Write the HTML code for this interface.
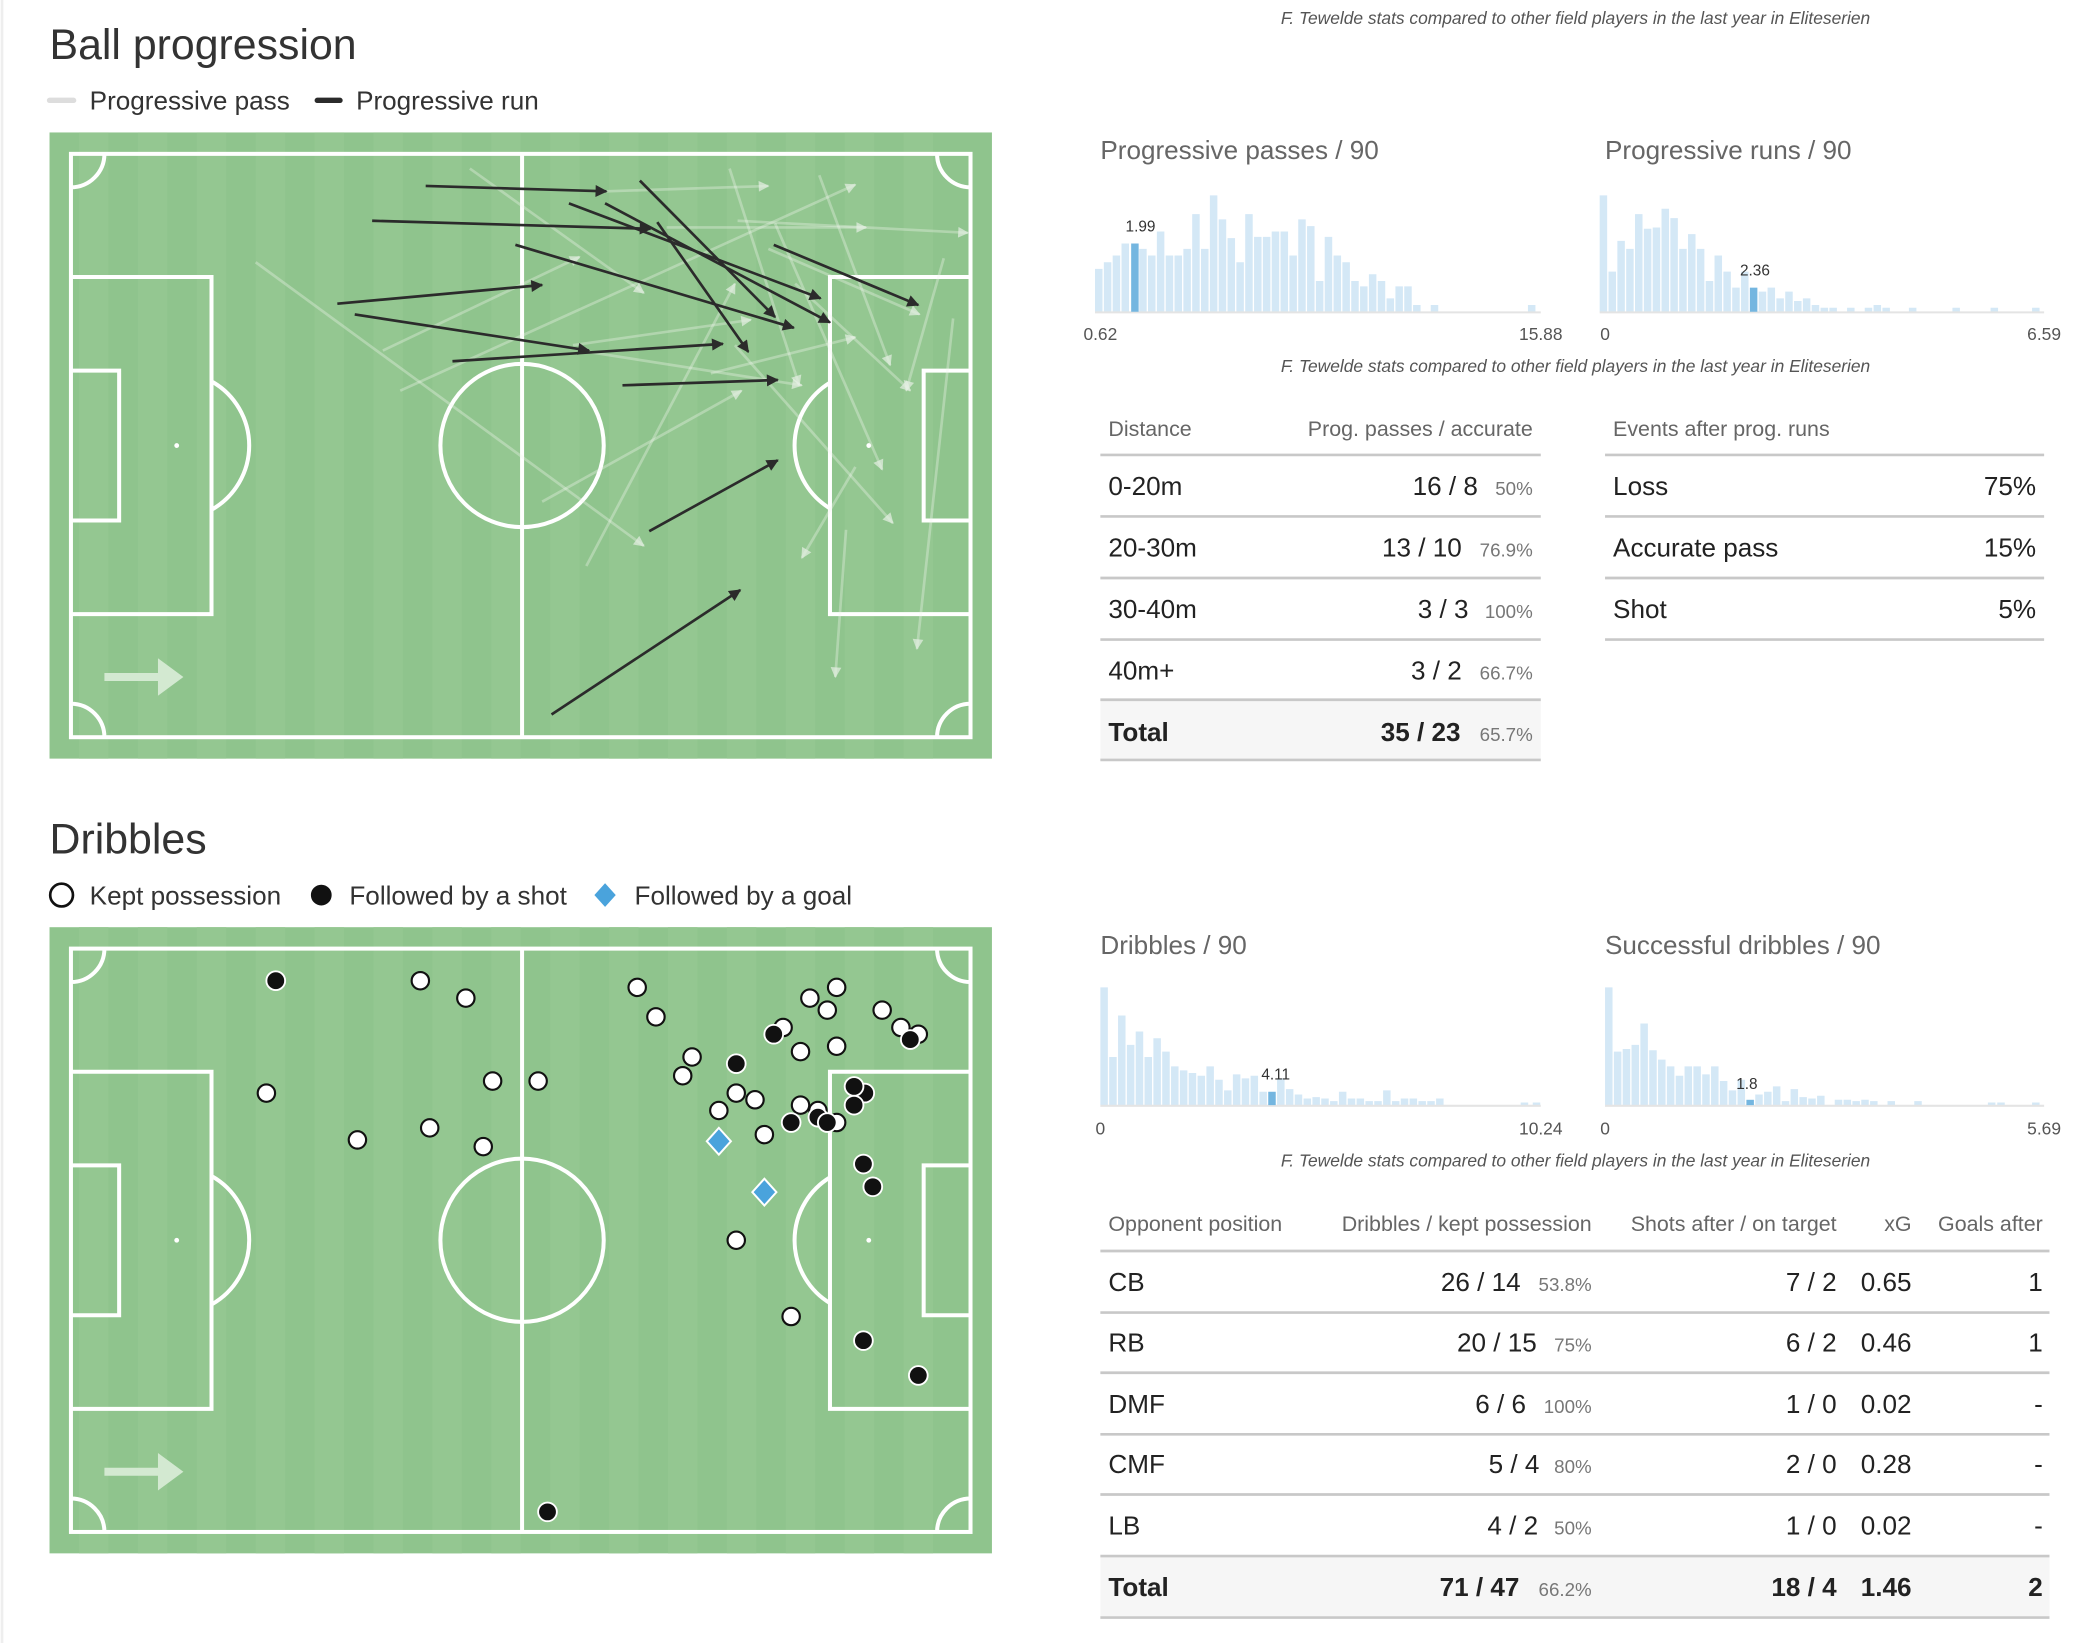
<!DOCTYPE html>
<html><head><meta charset="utf-8"><style>
html,body{margin:0;padding:0;background:#fff;}
svg{display:block;font-family:"Liberation Sans",sans-serif;}
.t{fill:#333;}
.g{fill:#666;}
.h{font-size:16px;fill:#666;}
.r{font-size:19.5px;fill:#222;}
.p{font-size:14px;fill:#777;}
.f{font-size:13px;fill:#555;font-style:italic;}
.ax{font-size:13px;fill:#555;}
</style></head><body>
<svg width="2099" height="1643" viewBox="0 0 1568 1228" preserveAspectRatio="none" xmlns="http://www.w3.org/2000/svg">
<defs>
<marker id="ad" viewBox="0 0 10 10" refX="9" refY="5" markerWidth="11" markerHeight="9" markerUnits="userSpaceOnUse" orient="auto"><path d="M0,0L10,5L0,10z" fill="#2b2b2b"/></marker>
<marker id="al" viewBox="0 0 10 10" refX="9" refY="5" markerWidth="10" markerHeight="8" markerUnits="userSpaceOnUse" orient="auto"><path d="M0,0L10,5L0,10z" fill="#e6f0e4" fill-opacity="0.7"/></marker>
<g id="pitch">
<rect x="37" y="99" width="704" height="468" fill="#8fc48d"/>
<g fill="#94c791">
<rect x="59" y="99" width="22" height="468"/><rect x="103" y="99" width="22" height="468"/><rect x="147" y="99" width="22" height="468"/><rect x="191" y="99" width="22" height="468"/><rect x="235" y="99" width="22" height="468"/><rect x="279" y="99" width="22" height="468"/><rect x="323" y="99" width="22" height="468"/><rect x="367" y="99" width="22" height="468"/><rect x="411" y="99" width="22" height="468"/><rect x="455" y="99" width="22" height="468"/><rect x="499" y="99" width="22" height="468"/><rect x="543" y="99" width="22" height="468"/><rect x="587" y="99" width="22" height="468"/><rect x="631" y="99" width="22" height="468"/><rect x="675" y="99" width="22" height="468"/>
</g>
<g fill="none" stroke="#fff" stroke-width="3">
<rect x="53" y="115" width="672" height="436"/>
<line x1="390" y1="115" x2="390" y2="551"/>
<circle cx="390" cy="333" r="61"/>
<path d="M53 207H158V459H53M53 277H89V389H53M725 207H620V459H725M725 277H690V389H725"/>
<path d="M158 285A55 55 0 0 1 158 381M620 286A55 55 0 0 0 620 380"/>
<path d="M53 140A25 25 0 0 0 78 115M700 115A25 25 0 0 0 725 140M53 526A25 25 0 0 1 78 551M700 551A25 25 0 0 1 725 526"/>
</g>
<circle cx="132" cy="333" r="1.8" fill="#fff"/><circle cx="649" cy="333" r="1.8" fill="#fff"/>
<line x1="78" y1="506" x2="121" y2="506" stroke="#d3e9d1" stroke-width="6"/>
<path d="M118 492L137 506L118 520z" fill="#d3e9d1"/>
</g>
</defs>

<line x1="1.5" y1="0" x2="1.5" y2="1228" stroke="#eee" stroke-width="2"/>

<text x="37" y="44" font-size="32" class="t">Ball progression</text>
<line x1="37" y1="75" x2="55" y2="75" stroke="#ddd" stroke-width="4" stroke-linecap="round"/>
<text x="67" y="82" font-size="19.5" class="t">Progressive pass</text>
<line x1="237" y1="75" x2="254" y2="75" stroke="#2b2b2b" stroke-width="4" stroke-linecap="round"/>
<text x="266" y="82" font-size="19.5" class="t">Progressive run</text>

<use href="#pitch"/>
<g stroke="#f0f5ef" stroke-opacity="0.35" stroke-width="2" fill="none" marker-end="url(#al)">
<line x1="351" y1="126" x2="481" y2="219"/>
<line x1="191" y1="196" x2="481" y2="408"/>
<line x1="286" y1="262" x2="433" y2="192"/>
<line x1="299" y1="292" x2="639" y2="138"/>
<line x1="453" y1="143" x2="574" y2="139"/>
<line x1="551" y1="165" x2="723" y2="174"/>
<line x1="498" y1="170" x2="647" y2="170"/>
<line x1="545" y1="126" x2="597" y2="288"/>
<line x1="612" y1="131" x2="665" y2="273"/>
<line x1="705" y1="193" x2="677" y2="292"/>
<line x1="712" y1="238" x2="685" y2="485"/>
<line x1="632" y1="396" x2="624" y2="506"/>
<line x1="639" y1="349" x2="599" y2="417"/>
<line x1="438" y1="423" x2="549" y2="212"/>
<line x1="405" y1="375" x2="554" y2="292"/>
<line x1="531" y1="279" x2="639" y2="252"/>
<line x1="433" y1="262" x2="599" y2="288"/>
<line x1="428" y1="258" x2="561" y2="239"/>
<line x1="574" y1="186" x2="687" y2="235"/>
<line x1="579" y1="167" x2="659" y2="351"/>
<line x1="549" y1="258" x2="667" y2="391"/>
<line x1="594" y1="212" x2="680" y2="292"/>
</g>
<g stroke="#2b2b2b" stroke-width="2" marker-end="url(#ad)">
<line x1="318" y1="139" x2="453" y2="143"/>
<line x1="278" y1="165" x2="486" y2="171"/>
<line x1="425" y1="152" x2="613" y2="223"/>
<line x1="452" y1="152" x2="620" y2="241"/>
<line x1="478" y1="135" x2="579" y2="237"/>
<line x1="491" y1="166" x2="559" y2="263"/>
<line x1="385" y1="183" x2="593" y2="245"/>
<line x1="578" y1="183" x2="686" y2="228"/>
<line x1="252" y1="227" x2="405" y2="213"/>
<line x1="265" y1="235" x2="440" y2="262"/>
<line x1="338" y1="270" x2="540" y2="257"/>
<line x1="465" y1="288" x2="581" y2="284"/>
<line x1="485" y1="397" x2="581" y2="344"/>
<line x1="412" y1="534" x2="553" y2="441"/>
</g>

<text x="1177" y="18" text-anchor="middle" class="f">F. Tewelde stats compared to other field players in the last year in Eliteserien</text>
<text x="822" y="119" font-size="19.5" class="g">Progressive passes / 90</text>
<text x="1199" y="119" font-size="19.5" class="g">Progressive runs / 90</text>

<g fill="#d4e8f6">
<path d="M818 233v-32h5.6v32zM824.6 233v-37h5.6v37zM831.2 233v-42h5.6v42zM837.8 233v-51h5.6v51zM851 233v-47h5.6v47zM857.6 233v-42h5.6v42zM864.2 233v-60h5.6v60zM870.8 233v-42h5.6v42zM877.4 233v-42h5.6v42zM884 233v-47h5.6v47zM890.6 233v-73h5.6v73zM897.2 233v-47h5.6v47zM903.8 233v-87h5.6v87zM910.4 233v-69h5.6v69zM917 233v-55h5.6v55zM923.6 233v-37h5.6v37zM930.2 233v-73h5.6v73zM936.8 233v-56h5.6v56zM943.4 233v-56h5.6v56zM950 233v-60h5.6v60zM956.6 233v-60h5.6v60zM963.2 233v-42h5.6v42zM969.8 233v-69h5.6v69zM976.4 233v-64h5.6v64zM983 233v-23h5.6v23zM989.6 233v-56h5.6v56zM996.2 233v-42h5.6v42zM1002.8 233v-37h5.6v37zM1009.4 233v-23h5.6v23zM1016 233v-19h5.6v19zM1022.6 233v-28h5.6v28zM1029.2 233v-23h5.6v23zM1035.8 233v-10h5.6v10zM1042.4 233v-19h5.6v19zM1049 233v-19h5.6v19zM1055.6 233v-5h5.6v5zM1068.8 233v-5h5.6v5zM1141.4 233v-5h5.6v5z"/>
</g>
<line x1="818" y1="233.5" x2="1151" y2="233.5" stroke="#e4e4e4" stroke-width="1.5"/>
<rect x="845" y="182" width="5.6" height="51" fill="#74b6e0"/>
<text x="852" y="173" font-size="11.5" text-anchor="middle" fill="#333">1.99</text>
<text x="822" y="254" text-anchor="middle" class="ax">0.62</text>
<text x="1151" y="254" text-anchor="middle" class="ax">15.88</text>

<g fill="#d4e8f6">
<path d="M1195 233v-87h5.6v87zM1201.6 233v-30h5.6v30zM1208.2 233v-53h5.6v53zM1214.8 233v-47h5.6v47zM1221.4 233v-73h5.6v73zM1228 233v-62h5.6v62zM1234.6 233v-63h5.6v63zM1241.2 233v-77h5.6v77zM1247.8 233v-70h5.6v70zM1254.4 233v-47h5.6v47zM1261 233v-58h5.6v58zM1267.6 233v-47h5.6v47zM1274.2 233v-23h5.6v23zM1280.8 233v-42h5.6v42zM1287.4 233v-30h5.6v30zM1294 233v-18h5.6v18zM1300.6 233v-30h5.6v30zM1313.8 233v-15h5.6v15zM1320.4 233v-18h5.6v18zM1327 233v-10h5.6v10zM1333.6 233v-15h5.6v15zM1340.2 233v-8h5.6v8zM1346.8 233v-10h5.6v10zM1353.4 233v-5h5.6v5zM1360 233v-3h5.6v3zM1366.6 233v-3h5.6v3zM1379.8 233v-3h5.6v3zM1393 233v-3h5.6v3zM1399.6 233v-5h5.6v5zM1406.2 233v-3h5.6v3zM1426 233v-3h5.6v3zM1458.5 233v-3h5.6v3zM1487 233v-3h5.6v3zM1518 233v-3h5.6v3z"/>
</g>
<line x1="1195" y1="233.5" x2="1527" y2="233.5" stroke="#e4e4e4" stroke-width="1.5"/>
<rect x="1307.2" y="215" width="5.6" height="18" fill="#74b6e0"/>
<text x="1311" y="206" font-size="11.5" text-anchor="middle" fill="#333">2.36</text>
<text x="1199" y="254" text-anchor="middle" class="ax">0</text>
<text x="1527" y="254" text-anchor="middle" class="ax">6.59</text>
<text x="1177" y="278" text-anchor="middle" class="f">F. Tewelde stats compared to other field players in the last year in Eliteserien</text>

<text x="828" y="326" class="h">Distance</text>
<text x="1145" y="326" text-anchor="end" class="h">Prog. passes / accurate</text>
<rect x="822" y="523" width="329" height="45" fill="#f6f6f6"/>
<g stroke="#c8c8c8" stroke-width="2">
<line x1="822" y1="340" x2="1151" y2="340"/><line x1="822" y1="386" x2="1151" y2="386"/><line x1="822" y1="432" x2="1151" y2="432"/><line x1="822" y1="478" x2="1151" y2="478"/><line x1="822" y1="523" x2="1151" y2="523"/><line x1="822" y1="568" x2="1151" y2="568"/>
<line x1="1199" y1="340" x2="1527" y2="340"/><line x1="1199" y1="386" x2="1527" y2="386"/><line x1="1199" y1="432" x2="1527" y2="432"/><line x1="1199" y1="478" x2="1527" y2="478"/>
</g>
<g class="r">
<text x="828" y="370">0-20m</text><text x="1104" y="370" text-anchor="end">16 / 8</text>
<text x="828" y="416">20-30m</text><text x="1092" y="416" text-anchor="end">13 / 10</text>
<text x="828" y="462">30-40m</text><text x="1097" y="462" text-anchor="end">3 / 3</text>
<text x="828" y="508">40m+</text><text x="1092" y="508" text-anchor="end">3 / 2</text>
<text x="828" y="554" font-weight="bold">Total</text><text x="1091" y="554" text-anchor="end" font-weight="bold">35 / 23</text>
</g>
<g class="p" text-anchor="end">
<text x="1145" y="370">50%</text><text x="1145" y="416">76.9%</text><text x="1145" y="462">100%</text><text x="1145" y="508">66.7%</text><text x="1145" y="554">65.7%</text>
</g>
<text x="1205" y="326" class="h">Events after prog. runs</text>
<g class="r">
<text x="1205" y="370">Loss</text><text x="1521" y="370" text-anchor="end">75%</text>
<text x="1205" y="416">Accurate pass</text><text x="1521" y="416" text-anchor="end">15%</text>
<text x="1205" y="462">Shot</text><text x="1521" y="462" text-anchor="end">5%</text>
</g>

<text x="37" y="638" font-size="32" class="t">Dribbles</text>
<circle cx="46" cy="669" r="8.5" fill="#fff" stroke="#111" stroke-width="2"/>
<text x="67" y="676" font-size="19.5" class="t">Kept possession</text>
<circle cx="240" cy="669" r="8.5" fill="#111" stroke="#fff" stroke-width="1.5"/>
<text x="261" y="676" font-size="19.5" class="t">Followed by a shot</text>
<path d="M452 659L461 669L452 679L443 669z" fill="#4aa3dc" stroke="#fff" stroke-width="1.5"/>
<text x="474" y="676" font-size="19.5" class="t">Followed by a goal</text>

<use href="#pitch" y="594"/>
<g stroke="#111" stroke-width="1.6" fill="#fff">
<circle cx="314" cy="733" r="6.5"/><circle cx="348" cy="746" r="6.5"/><circle cx="199" cy="817" r="6.5"/><circle cx="368" cy="808" r="6.5"/><circle cx="402" cy="808" r="6.5"/><circle cx="267" cy="852" r="6.5"/><circle cx="321" cy="843" r="6.5"/><circle cx="361" cy="857" r="6.5"/><circle cx="476" cy="738" r="6.5"/><circle cx="490" cy="760" r="6.5"/><circle cx="517" cy="790" r="6.5"/><circle cx="510" cy="804" r="6.5"/><circle cx="550" cy="817" r="6.5"/><circle cx="564" cy="822" r="6.5"/><circle cx="537" cy="830" r="6.5"/><circle cx="571" cy="848" r="6.5"/><circle cx="585" cy="768" r="6.5"/><circle cx="598" cy="786" r="6.5"/><circle cx="605" cy="746" r="6.5"/><circle cx="618" cy="755" r="6.5"/><circle cx="625" cy="738" r="6.5"/><circle cx="625" cy="782" r="6.5"/><circle cx="659" cy="755" r="6.5"/><circle cx="673" cy="768" r="6.5"/><circle cx="686" cy="773" r="6.5"/><circle cx="598" cy="826" r="6.5"/><circle cx="611" cy="830" r="6.5"/><circle cx="625" cy="839" r="6.5"/><circle cx="550" cy="927" r="6.5"/><circle cx="591" cy="984" r="6.5"/>
</g>
<g stroke="#fff" stroke-width="1.4" fill="#111">
<circle cx="206" cy="733" r="7"/><circle cx="578" cy="773" r="7"/><circle cx="550" cy="795" r="7"/><circle cx="680" cy="777" r="7"/><circle cx="646" cy="817" r="7"/><circle cx="638" cy="812" r="7"/><circle cx="638" cy="826" r="7"/><circle cx="591" cy="839" r="7"/><circle cx="611" cy="835" r="7"/><circle cx="618" cy="839" r="7"/><circle cx="645" cy="870" r="7"/><circle cx="652" cy="887" r="7"/><circle cx="645" cy="1002" r="7"/><circle cx="686" cy="1028" r="7"/><circle cx="409" cy="1130" r="7"/>
</g>
<g fill="#4aa3dc" stroke="#fff" stroke-width="1.5">
<path d="M537 843L546 853L537 863L528 853z"/><path d="M571 881L580 891L571 901L562 891z"/>
</g>

<text x="822" y="713" font-size="19.5" class="g">Dribbles / 90</text>
<text x="1199" y="713" font-size="19.5" class="g">Successful dribbles / 90</text>
<g fill="#d4e8f6">
<path d="M822 826v-88h5.6v88zM828.6 826v-36h5.6v36zM835.2 826v-67h5.6v67zM841.8 826v-45h5.6v45zM848.4 826v-55h5.6v55zM855 826v-36h5.6v36zM861.6 826v-50h5.6v50zM868.2 826v-40h5.6v40zM874.8 826v-29h5.6v29zM881.4 826v-26h5.6v26zM888 826v-24h5.6v24zM894.6 826v-22h5.6v22zM901.2 826v-29h5.6v29zM907.8 826v-19h5.6v19zM914.4 826v-11h5.6v11zM921 826v-23h5.6v23zM927.6 826v-20h5.6v20zM934.2 826v-22h5.6v22zM940.8 826v-10h5.6v10zM954 826v-20h5.6v20zM960.6 826v-12h5.6v12zM967.2 826v-8h5.6v8zM973.8 826v-5h5.6v5zM980.4 826v-6h5.6v6zM987 826v-5h5.6v5zM993.6 826v-3h5.6v3zM1000.2 826v-10h5.6v10zM1006.8 826v-5h5.6v5zM1013.4 826v-5h5.6v5zM1020 826v-3h5.6v3zM1026.6 826v-3h5.6v3zM1033.2 826v-11h5.6v11zM1039.8 826v-3h5.6v3zM1046.4 826v-5h5.6v5zM1053 826v-5h5.6v5zM1059.6 826v-3h5.6v3zM1066.2 826v-3h5.6v3zM1072.8 826v-5h5.6v5zM1136 826v-2h5.6v2zM1145 826v-2h5.6v2z"/>
<path d="M1199 826v-88h5.6v88zM1205.6 826v-40h5.6v40zM1212.2 826v-42h5.6v42zM1218.8 826v-45h5.6v45zM1225.4 826v-61h5.6v61zM1232 826v-41h5.6v41zM1238.6 826v-34h5.6v34zM1245.2 826v-29h5.6v29zM1251.8 826v-22h5.6v22zM1258.4 826v-29h5.6v29zM1265 826v-29h5.6v29zM1271.6 826v-23h5.6v23zM1278.2 826v-29h5.6v29zM1284.8 826v-18h5.6v18zM1291.4 826v-11h5.6v11zM1298 826v-19h5.6v19zM1311.2 826v-8h5.6v8zM1317.8 826v-10h5.6v10zM1324.4 826v-14h5.6v14zM1331 826v-3h5.6v3zM1337.6 826v-12h5.6v12zM1344.2 826v-6h5.6v6zM1350.8 826v-5h5.6v5zM1357.4 826v-7h5.6v7zM1370.6 826v-4h5.6v4zM1377.2 826v-4h5.6v4zM1383.8 826v-3h5.6v3zM1390.4 826v-4h5.6v4zM1397 826v-3h5.6v3zM1410 826v-3h5.6v3zM1430 826v-3h5.6v3zM1485 826v-2h5.6v2zM1492 826v-2h5.6v2zM1518 826v-2h5.6v2z"/>
</g>
<line x1="822" y1="826.5" x2="1151" y2="826.5" stroke="#e4e4e4" stroke-width="1.5"/>
<line x1="1199" y1="826.5" x2="1527" y2="826.5" stroke="#e4e4e4" stroke-width="1.5"/>
<rect x="947.4" y="816" width="5.6" height="10" fill="#74b6e0"/>
<rect x="1304.6" y="822" width="5.6" height="4" fill="#74b6e0"/>
<text x="953" y="807" font-size="11.5" text-anchor="middle" fill="#333">4.11</text>
<text x="1305" y="814" font-size="11.5" text-anchor="middle" fill="#333">1.8</text>
<text x="822" y="848" text-anchor="middle" class="ax">0</text>
<text x="1151" y="848" text-anchor="middle" class="ax">10.24</text>
<text x="1199" y="848" text-anchor="middle" class="ax">0</text>
<text x="1527" y="848" text-anchor="middle" class="ax">5.69</text>
<text x="1177" y="872" text-anchor="middle" class="f">F. Tewelde stats compared to other field players in the last year in Eliteserien</text>

<g class="h">
<text x="828" y="920">Opponent position</text>
<text x="1189" y="920" text-anchor="end">Dribbles / kept possession</text>
<text x="1372" y="920" text-anchor="end">Shots after / on target</text>
<text x="1428" y="920" text-anchor="end">xG</text>
<text x="1526" y="920" text-anchor="end">Goals after</text>
</g>
<rect x="822" y="1163" width="709" height="46" fill="#f6f6f6"/>
<g stroke="#c8c8c8" stroke-width="2">
<line x1="822" y1="935" x2="1531" y2="935"/><line x1="822" y1="981" x2="1531" y2="981"/><line x1="822" y1="1026" x2="1531" y2="1026"/><line x1="822" y1="1072" x2="1531" y2="1072"/><line x1="822" y1="1117" x2="1531" y2="1117"/><line x1="822" y1="1163" x2="1531" y2="1163"/><line x1="822" y1="1209" x2="1531" y2="1209"/>
</g>
<g class="r">
<text x="828" y="965">CB</text><text x="1136" y="965" text-anchor="end">26 / 14</text><text x="1372" y="965" text-anchor="end">7 / 2</text><text x="1428" y="965" text-anchor="end">0.65</text><text x="1526" y="965" text-anchor="end">1</text>
<text x="828" y="1010">RB</text><text x="1148" y="1010" text-anchor="end">20 / 15</text><text x="1372" y="1010" text-anchor="end">6 / 2</text><text x="1428" y="1010" text-anchor="end">0.46</text><text x="1526" y="1010" text-anchor="end">1</text>
<text x="828" y="1056">DMF</text><text x="1140" y="1056" text-anchor="end">6 / 6</text><text x="1372" y="1056" text-anchor="end">1 / 0</text><text x="1428" y="1056" text-anchor="end">0.02</text><text x="1526" y="1056" text-anchor="end">-</text>
<text x="828" y="1101">CMF</text><text x="1150" y="1101" text-anchor="end">5 / 4</text><text x="1372" y="1101" text-anchor="end">2 / 0</text><text x="1428" y="1101" text-anchor="end">0.28</text><text x="1526" y="1101" text-anchor="end">-</text>
<text x="828" y="1147">LB</text><text x="1149" y="1147" text-anchor="end">4 / 2</text><text x="1372" y="1147" text-anchor="end">1 / 0</text><text x="1428" y="1147" text-anchor="end">0.02</text><text x="1526" y="1147" text-anchor="end">-</text>
<g font-weight="bold">
<text x="828" y="1193">Total</text><text x="1135" y="1193" text-anchor="end">71 / 47</text><text x="1372" y="1193" text-anchor="end">18 / 4</text><text x="1428" y="1193" text-anchor="end">1.46</text><text x="1526" y="1193" text-anchor="end">2</text>
</g>
</g>
<g class="p" text-anchor="end">
<text x="1189" y="965">53.8%</text><text x="1189" y="1010">75%</text><text x="1189" y="1056">100%</text><text x="1189" y="1101">80%</text><text x="1189" y="1147">50%</text><text x="1189" y="1193">66.2%</text>
</g>
</svg>
</body></html>
